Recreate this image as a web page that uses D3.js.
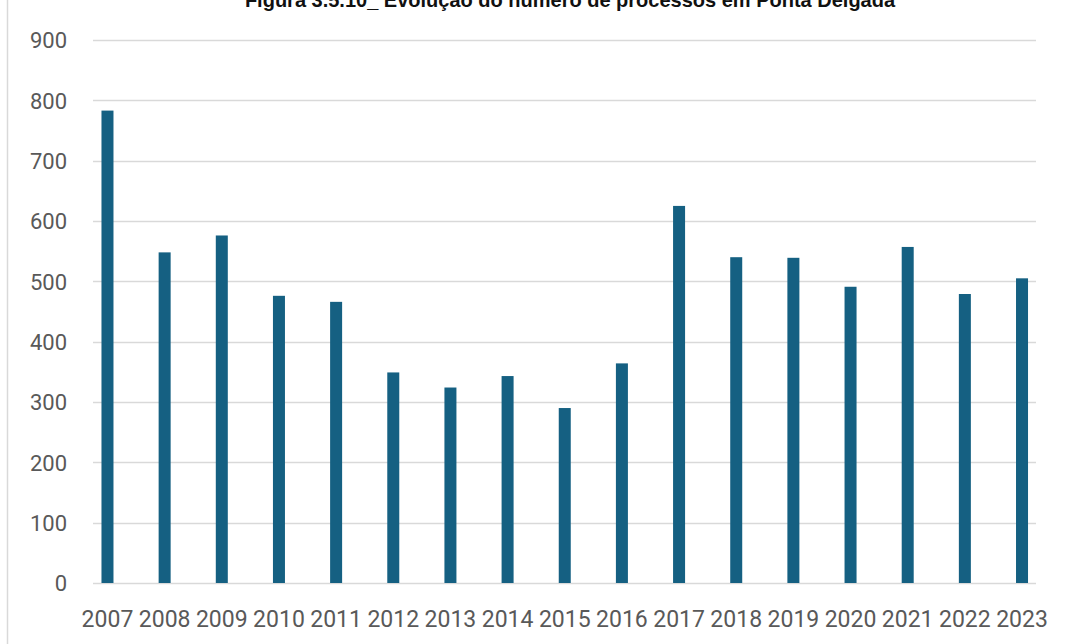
<!DOCTYPE html>
<html>
<head>
<meta charset="utf-8">
<script src="https://cdn.jsdelivr.net/npm/d3@7"></script>
<style>
  html, body { margin: 0; padding: 0; background: #fff; }
  svg { display: block; }
</style>
</head>
<body>
<div id="chart"></div>
<script>
const TITLE = "Figura 3.5.10_ Evolução do número de processos em Ponta Delgada";
const years = ["2007", "2008", "2009", "2010", "2011", "2012", "2013", "2014", "2015",
  "2016", "2017", "2018", "2019", "2020", "2021", "2022", "2023"];
const processos = [783, 548, 576, 476, 466, 349, 324, 343, 290, 364, 625, 540, 539, 491, 557, 479, 505];
const yTicks = [0, 100, 200, 300, 400, 500, 600, 700, 800, 900];

const WIDTH = 1067;
const HEIGHT = 644;
const BAR_FILL = "#156082";
const GRID_STROKE = "#d9d9d9";
const LABEL_FILL = "#595959";
const LABEL_FONT = "Roboto, 'Open Sans', sans-serif";

const GRID_LEFT = 93;
const GRID_RIGHT = 1036;
const PLOT_TOP = 40;
const PLOT_BOTTOM = 583;

const svg = d3.select("#chart")
  .append("svg")
  .attr("width", WIDTH)
  .attr("height", HEIGHT)
  .attr("viewBox", [0, 0, WIDTH, HEIGHT]);

// outer frame edge on the left
svg.append("line")
  .attr("x1", 7.5).attr("x2", 7.5)
  .attr("y1", 0).attr("y2", HEIGHT)
  .attr("stroke", GRID_STROKE)
  .attr("stroke-width", 1.5);

// title sits partly above the visible area, as in the source crop
svg.append("text")
  .attr("x", 570)
  .attr("y", 7)
  .attr("text-anchor", "middle")
  .attr("font-family", "'Liberation Sans', Arial, sans-serif")
  .attr("font-weight", "bold")
  .attr("font-size", 20)
  .attr("fill", "#111")
  .text(TITLE);

const x = d3.scaleBand()
  .domain(years)
  .range([78.9, 1050.6])
  .paddingInner(0.79)
  .paddingOuter(0.395);

const y = d3.scaleLinear()
  .domain([0, 900])
  .range([PLOT_BOTTOM, PLOT_TOP]);

const gridGroup = svg.append("g").attr("class", "grid");
gridGroup.selectAll("line")
  .data(yTicks)
  .join("line")
  .attr("x1", GRID_LEFT)
  .attr("x2", GRID_RIGHT)
  .attr("y1", (d) => Math.round(y(d)) + 0.5)
  .attr("y2", (d) => Math.round(y(d)) + 0.5)
  .attr("stroke", GRID_STROKE)
  .attr("stroke-width", 1.5);

const yAxis = svg.append("g")
  .attr("transform", "translate(67,0)")
  .call(d3.axisLeft(y).tickValues(yTicks).tickSize(0).tickPadding(0));
yAxis.select(".domain").remove();
yAxis.selectAll("text")
  .attr("font-family", LABEL_FONT)
  .attr("font-size", 22)
  .attr("fill", LABEL_FILL)
  .attr("dy", "0.36em");

svg.append("g")
  .attr("class", "bars")
  .selectAll("rect")
  .data(years)
  .join("rect")
  .attr("x", (d) => x(d))
  .attr("y", (d, i) => y(processos[i]))
  .attr("width", x.bandwidth())
  .attr("height", (d, i) => y(0) - y(processos[i]))
  .attr("fill", BAR_FILL);

const xAxis = svg.append("g")
  .attr("transform", `translate(0,${PLOT_BOTTOM})`)
  .call(d3.axisBottom(x).tickSize(0).tickPadding(0));
xAxis.select(".domain").remove();
xAxis.selectAll("text")
  .attr("font-family", LABEL_FONT)
  .attr("font-size", 23)
  .attr("fill", LABEL_FILL)
  .attr("dy", null)
  .attr("y", 44);
</script>
</body>
</html>
